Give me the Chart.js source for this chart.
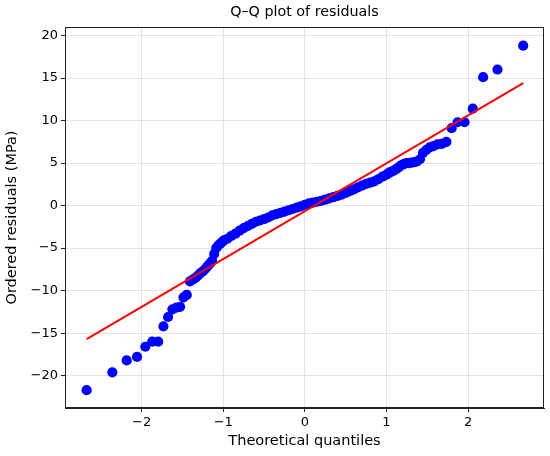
<!DOCTYPE html>
<html>
<head>
<meta charset="utf-8">
<script src="https://cdn.jsdelivr.net/npm/chart.js@4/dist/chart.umd.min.js"></script>
<style>
  body { margin: 0; background: #fff; }
  #wrap { width: 550px; height: 456px; }
</style>
</head>
<body>
<div id="wrap"><canvas id="qqChart" width="550" height="456"></canvas></div>
<script>
// theoretical quantiles (x) and ordered residuals (y)
const quantiles = [
  -2.675, -2.36, -2.184, -2.057, -1.956, -1.871, -1.798, -1.734, -1.677, -1.624,
  -1.575, -1.53, -1.488, -1.448, -1.41, -1.374, -1.341, -1.308, -1.277, -1.247,
  -1.218, -1.19, -1.163, -1.137, -1.112, -1.087, -1.063, -1.039, -1.016, -0.994,
  -0.95, -0.90, -0.85, -0.80, -0.75, -0.70, -0.65, -0.60, -0.55, -0.50,
  -0.45, -0.40, -0.35, -0.30, -0.25, -0.20, -0.15, -0.10, -0.05, 0.00,
  0.05, 0.10, 0.15, 0.20, 0.25, 0.30, 0.35, 0.40, 0.45, 0.50,
  0.55, 0.60, 0.65, 0.70, 0.75, 0.80, 0.85, 0.90, 0.95,
  0.994, 1.016, 1.039, 1.063, 1.087, 1.112, 1.137, 1.163, 1.19, 1.218,
  1.247, 1.277, 1.308, 1.341, 1.374, 1.41, 1.448, 1.488, 1.53, 1.575,
  1.624, 1.677, 1.734, 1.798, 1.871, 1.956, 2.057, 2.184, 2.36, 2.675
];
const residuals = [
  -21.7, -19.6, -18.2, -17.8, -16.6, -16.0, -16.0, -14.2, -13.1, -12.2,
  -12.0, -11.9, -10.8, -10.5, -8.9, -8.7, -8.5, -8.2, -7.9, -7.7,
  -7.4, -7.1, -6.8, -6.5, -5.7, -5.0, -4.7, -4.5, -4.3, -4.1,
  -3.9, -3.55, -3.3, -2.95, -2.65, -2.4, -2.15, -1.9, -1.75, -1.6,
  -1.4, -1.15, -1.0, -0.85, -0.7, -0.55, -0.4, -0.25, -0.1, 0.1,
  0.25, 0.35, 0.45, 0.55, 0.7, 0.85, 1.0, 1.15, 1.3, 1.5,
  1.7, 1.9, 2.15, 2.35, 2.55, 2.7, 2.85, 3.1, 3.4,
  3.6, 3.75, 3.9, 4.0, 4.1, 4.25, 4.4, 4.6, 4.8, 4.9,
  5.0, 5.0, 5.05, 5.1, 5.2, 5.45, 6.2, 6.55, 6.85, 7.0,
  7.2, 7.25, 7.5, 9.1, 9.8, 9.8, 11.4, 15.1, 16.0, 18.8
];
// fitted reference line end points
const fitX = [-2.675, 2.675];
const fitY = [-15.7, 14.4];

const xTicks = [-2, -1, 0, 1, 2];
const yTicks = [-20, -15, -10, -5, 0, 5, 10, 15, 20];

const FONT = 'DejaVu Sans';
const minus = v => (v < 0 ? '\u2212' + Math.abs(v) : String(v));

// matplotlib-like frame + title centred over the axes
const framePlugin = {
  id: 'frame',
  afterDraw(chart) {
    const { ctx, chartArea: a } = chart;
    ctx.save();
    ctx.strokeStyle = '#222';
    ctx.lineWidth = 1;
    ctx.strokeRect(a.left + 0.5, a.top + 0.5, a.right - a.left - 1, a.bottom - a.top - 1);
    ctx.fillStyle = '#000';
    ctx.font = '14.3px "' + FONT + '"';
    ctx.textAlign = 'center';
    ctx.textBaseline = 'middle';
    ctx.fillText('Q\u2013Q plot of residuals', (a.left + a.right) / 2, 12);
    ctx.restore();
  }
};

const ctx = document.getElementById('qqChart').getContext('2d');
new Chart(ctx, {
  type: 'scatter',
  data: {
    datasets: [
      {
        label: 'residuals',
        data: quantiles.map((q, i) => ({ x: q, y: residuals[i] })),
        backgroundColor: '#0000ff',
        borderWidth: 0,
        pointRadius: 5.1,
        order: 1
      },
      {
        label: 'fit',
        type: 'line',
        data: fitX.map((q, i) => ({ x: q, y: fitY[i] })),
        borderColor: '#ff0000',
        borderWidth: 2,
        pointRadius: 0,
        fill: false,
        order: 0
      }
    ]
  },
  options: {
    responsive: false,
    animation: false,
    layout: { padding: { top: 27, right: 6, left: 0, bottom: 0 } },
    plugins: {
      legend: { display: false },
      tooltip: { enabled: false }
    },
    scales: {
      x: {
        type: 'linear',
        min: -2.94,
        max: 2.93,
        afterBuildTicks: s => { s.ticks = xTicks.map(v => ({ value: v })); },
        afterFit: s => { s.height = 48; },
        grid: { color: '#e2e2e2', tickColor: '#222', tickLength: 4 },
        border: { color: '#222' },
        ticks: {
          color: '#000', padding: 3,
          font: { family: FONT, size: 13 },
          callback: v => minus(v)
        },
        title: {
          display: true,
          text: 'Theoretical quantiles',
          color: '#000',
          font: { family: FONT, size: 14.5 },
          padding: { top: 0, bottom: 6 }
        }
      },
      y: {
        type: 'linear',
        min: -23.8,
        max: 21.0,
        afterBuildTicks: s => { s.ticks = yTicks.map(v => ({ value: v })); },
        afterFit: s => { s.width = 65; },
        grid: { color: '#e2e2e2', tickColor: '#222', tickLength: 4 },
        border: { color: '#222' },
        ticks: {
          color: '#000', padding: 3,
          font: { family: FONT, size: 13 },
          callback: v => minus(v)
        },
        title: {
          display: true,
          text: 'Ordered residuals (MPa)',
          color: '#000',
          font: { family: FONT, size: 14.5 },
          padding: { top: 4, bottom: 0 }
        }
      }
    }
  },
  plugins: [framePlugin]
});
</script>
</body>
</html>
